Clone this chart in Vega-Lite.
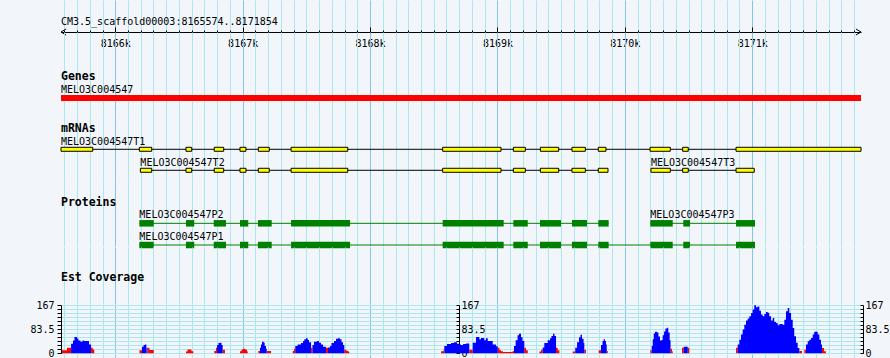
{
  "$schema": "https://vega.github.io/schema/vega-lite/v6.json",
  "background": "#F2F5FA",
  "padding": {"left": 29, "top": 0, "right": 0, "bottom": 0},
  "spacing": 0,
  "bounds": "flush",
  "config": {
    "view": {"stroke": null},
    "axis": {"labelFont": "DejaVu Sans Mono", "labelFontSize": 10, "labelColor": "#000000", "tickColor": "#000000", "domainColor": "#000000", "labelOverlap": false, "labelFlush": false, "domainWidth": 1, "tickWidth": 1},
    "text": {"font": "DejaVu Sans Mono", "fontSize": 10}
  },
  "datasets": {
    "region": [{"seq": "CM3.5_scaffold00003", "start": 8165574, "end": 8171854, "label": "CM3.5_scaffold00003:8165574..8171854"}],
    "genes": [{"name": "MELO3C004547", "lane": "1", "start": 8165574, "end": 8171854}],
    "transcripts": [
      {"track": "mRNAs", "name": "MELO3C004547T1", "lane": "1", "start": 8165574, "end": 8171854},
      {"track": "mRNAs", "name": "MELO3C004547T2", "lane": "2", "start": 8166197, "end": 8169868},
      {"track": "mRNAs", "name": "MELO3C004547T3", "lane": "2", "start": 8170205, "end": 8171016},
      {"track": "Proteins", "name": "MELO3C004547P2", "lane": "1", "start": 8166189, "end": 8169873},
      {"track": "Proteins", "name": "MELO3C004547P3", "lane": "1", "start": 8170200, "end": 8171022},
      {"track": "Proteins", "name": "MELO3C004547P1", "lane": "2", "start": 8166189, "end": 8171022}
    ],
    "parts": [
      {"track": "mRNAs", "name": "T1", "lane": "1", "start": 8165574, "end": 8165823},
      {"track": "mRNAs", "name": "T1", "lane": "1", "start": 8166189, "end": 8166286},
      {"track": "mRNAs", "name": "T1", "lane": "1", "start": 8166555, "end": 8166600},
      {"track": "mRNAs", "name": "T1", "lane": "1", "start": 8166777, "end": 8166851},
      {"track": "mRNAs", "name": "T1", "lane": "1", "start": 8166979, "end": 8167026},
      {"track": "mRNAs", "name": "T1", "lane": "1", "start": 8167123, "end": 8167209},
      {"track": "mRNAs", "name": "T1", "lane": "1", "start": 8167380, "end": 8167825},
      {"track": "mRNAs", "name": "T1", "lane": "1", "start": 8168570, "end": 8169028},
      {"track": "mRNAs", "name": "T1", "lane": "1", "start": 8169125, "end": 8169219},
      {"track": "mRNAs", "name": "T1", "lane": "1", "start": 8169337, "end": 8169481},
      {"track": "mRNAs", "name": "T1", "lane": "1", "start": 8169585, "end": 8169690},
      {"track": "mRNAs", "name": "T1", "lane": "1", "start": 8169792, "end": 8169852},
      {"track": "mRNAs", "name": "T1", "lane": "1", "start": 8170198, "end": 8170357},
      {"track": "mRNAs", "name": "T1", "lane": "1", "start": 8170454, "end": 8170498},
      {"track": "mRNAs", "name": "T1", "lane": "1", "start": 8170873, "end": 8171854},
      {"track": "mRNAs", "name": "T2", "lane": "2", "start": 8166197, "end": 8166286},
      {"track": "mRNAs", "name": "T2", "lane": "2", "start": 8166555, "end": 8166600},
      {"track": "mRNAs", "name": "T2", "lane": "2", "start": 8166777, "end": 8166851},
      {"track": "mRNAs", "name": "T2", "lane": "2", "start": 8166979, "end": 8167026},
      {"track": "mRNAs", "name": "T2", "lane": "2", "start": 8167123, "end": 8167209},
      {"track": "mRNAs", "name": "T2", "lane": "2", "start": 8167380, "end": 8167825},
      {"track": "mRNAs", "name": "T2", "lane": "2", "start": 8168570, "end": 8169028},
      {"track": "mRNAs", "name": "T2", "lane": "2", "start": 8169125, "end": 8169219},
      {"track": "mRNAs", "name": "T2", "lane": "2", "start": 8169337, "end": 8169481},
      {"track": "mRNAs", "name": "T2", "lane": "2", "start": 8169585, "end": 8169690},
      {"track": "mRNAs", "name": "T2", "lane": "2", "start": 8169792, "end": 8169868},
      {"track": "mRNAs", "name": "T3", "lane": "2", "start": 8170205, "end": 8170357},
      {"track": "mRNAs", "name": "T3", "lane": "2", "start": 8170454, "end": 8170498},
      {"track": "mRNAs", "name": "T3", "lane": "2", "start": 8170873, "end": 8171016},
      {"track": "Proteins", "name": "P2", "lane": "1", "start": 8166189, "end": 8166302},
      {"track": "Proteins", "name": "P2", "lane": "1", "start": 8166555, "end": 8166620},
      {"track": "Proteins", "name": "P2", "lane": "1", "start": 8166773, "end": 8166869},
      {"track": "Proteins", "name": "P2", "lane": "1", "start": 8166979, "end": 8167044},
      {"track": "Proteins", "name": "P2", "lane": "1", "start": 8167120, "end": 8167228},
      {"track": "Proteins", "name": "P2", "lane": "1", "start": 8167380, "end": 8167843},
      {"track": "Proteins", "name": "P2", "lane": "1", "start": 8168570, "end": 8169049},
      {"track": "Proteins", "name": "P2", "lane": "1", "start": 8169125, "end": 8169238},
      {"track": "Proteins", "name": "P2", "lane": "1", "start": 8169334, "end": 8169499},
      {"track": "Proteins", "name": "P2", "lane": "1", "start": 8169585, "end": 8169703},
      {"track": "Proteins", "name": "P2", "lane": "1", "start": 8169792, "end": 8169873},
      {"track": "Proteins", "name": "P3", "lane": "1", "start": 8170200, "end": 8170376},
      {"track": "Proteins", "name": "P3", "lane": "1", "start": 8170459, "end": 8170512},
      {"track": "Proteins", "name": "P3", "lane": "1", "start": 8170873, "end": 8171022},
      {"track": "Proteins", "name": "P1", "lane": "2", "start": 8166189, "end": 8166302},
      {"track": "Proteins", "name": "P1", "lane": "2", "start": 8166555, "end": 8166620},
      {"track": "Proteins", "name": "P1", "lane": "2", "start": 8166773, "end": 8166869},
      {"track": "Proteins", "name": "P1", "lane": "2", "start": 8166979, "end": 8167044},
      {"track": "Proteins", "name": "P1", "lane": "2", "start": 8167120, "end": 8167228},
      {"track": "Proteins", "name": "P1", "lane": "2", "start": 8167380, "end": 8167843},
      {"track": "Proteins", "name": "P1", "lane": "2", "start": 8168570, "end": 8169049},
      {"track": "Proteins", "name": "P1", "lane": "2", "start": 8169125, "end": 8169238},
      {"track": "Proteins", "name": "P1", "lane": "2", "start": 8169334, "end": 8169499},
      {"track": "Proteins", "name": "P1", "lane": "2", "start": 8169585, "end": 8169703},
      {"track": "Proteins", "name": "P1", "lane": "2", "start": 8169792, "end": 8169873},
      {"track": "Proteins", "name": "P1", "lane": "2", "start": 8170200, "end": 8170376},
      {"track": "Proteins", "name": "P1", "lane": "2", "start": 8170459, "end": 8170512},
      {"track": "Proteins", "name": "P1", "lane": "2", "start": 8170873, "end": 8171022}
    ],
    "coverage": [
      {"pos": 8165582, "cov": 0, "low": 10}, {"pos": 8165621, "cov": 0, "low": 19}, {"pos": 8165653, "cov": 33, "low": 0}, {"pos": 8165668, "cov": 44, "low": 0}, {"pos": 8165680, "cov": 56, "low": 0}, {"pos": 8165700, "cov": 51, "low": 0}, {"pos": 8165711, "cov": 44, "low": 0}, {"pos": 8165727, "cov": 40, "low": 0}, {"pos": 8165743, "cov": 44, "low": 0}, {"pos": 8165755, "cov": 42, "low": 0}, {"pos": 8165794, "cov": 30, "low": 0}, {"pos": 8165810, "cov": 0, "low": 19}, {"pos": 8165823, "cov": 0, "low": 13}, {"pos": 8165835, "cov": 0, "low": 0},
      {"pos": 8166190, "cov": 0, "low": 10}, {"pos": 8166210, "cov": 22, "low": 0}, {"pos": 8166222, "cov": 28, "low": 0}, {"pos": 8166233, "cov": 30, "low": 0}, {"pos": 8166244, "cov": 0, "low": 19}, {"pos": 8166253, "cov": 19, "low": 0}, {"pos": 8166259, "cov": 0, "low": 19}, {"pos": 8166269, "cov": 0, "low": 11}, {"pos": 8166302, "cov": 0, "low": 0},
      {"pos": 8166555, "cov": 0, "low": 6}, {"pos": 8166567, "cov": 0, "low": 13}, {"pos": 8166598, "cov": 0, "low": 7}, {"pos": 8166613, "cov": 0, "low": 0},
      {"pos": 8166777, "cov": 0, "low": 8}, {"pos": 8166791, "cov": 0, "low": 19}, {"pos": 8166799, "cov": 28, "low": 0}, {"pos": 8166810, "cov": 35, "low": 0}, {"pos": 8166822, "cov": 36, "low": 0}, {"pos": 8166834, "cov": 28, "low": 0}, {"pos": 8166843, "cov": 0, "low": 12}, {"pos": 8166861, "cov": 0, "low": 0},
      {"pos": 8166979, "cov": 0, "low": 7}, {"pos": 8166991, "cov": 0, "low": 13}, {"pos": 8167003, "cov": 0, "low": 15}, {"pos": 8167022, "cov": 0, "low": 12}, {"pos": 8167034, "cov": 0, "low": 6}, {"pos": 8167040, "cov": 0, "low": 0},
      {"pos": 8167123, "cov": 0, "low": 8}, {"pos": 8167136, "cov": 19, "low": 0}, {"pos": 8167144, "cov": 30, "low": 0}, {"pos": 8167152, "cov": 40, "low": 0}, {"pos": 8167165, "cov": 36, "low": 0}, {"pos": 8167173, "cov": 25, "low": 0}, {"pos": 8167183, "cov": 15, "low": 0}, {"pos": 8167189, "cov": 0, "low": 8}, {"pos": 8167223, "cov": 0, "low": 0},
      {"pos": 8167393, "cov": 0, "low": 8}, {"pos": 8167403, "cov": 0, "low": 15}, {"pos": 8167413, "cov": 25, "low": 0}, {"pos": 8167432, "cov": 30, "low": 0}, {"pos": 8167458, "cov": 35, "low": 0}, {"pos": 8167474, "cov": 42, "low": 0}, {"pos": 8167484, "cov": 48, "low": 0}, {"pos": 8167497, "cov": 52, "low": 0}, {"pos": 8167511, "cov": 46, "low": 0}, {"pos": 8167521, "cov": 38, "low": 0}, {"pos": 8167537, "cov": 0, "low": 19}, {"pos": 8167548, "cov": 28, "low": 0}, {"pos": 8167560, "cov": 40, "low": 0}, {"pos": 8167584, "cov": 42, "low": 0}, {"pos": 8167599, "cov": 36, "low": 0}, {"pos": 8167615, "cov": 30, "low": 0}, {"pos": 8167631, "cov": 22, "low": 0}, {"pos": 8167654, "cov": 0, "low": 19}, {"pos": 8167670, "cov": 20, "low": 0}, {"pos": 8167686, "cov": 25, "low": 0}, {"pos": 8167697, "cov": 35, "low": 0}, {"pos": 8167717, "cov": 42, "low": 0}, {"pos": 8167733, "cov": 50, "low": 0}, {"pos": 8167748, "cov": 52, "low": 0}, {"pos": 8167764, "cov": 48, "low": 0}, {"pos": 8167776, "cov": 38, "low": 0}, {"pos": 8167788, "cov": 28, "low": 0}, {"pos": 8167798, "cov": 0, "low": 12}, {"pos": 8167815, "cov": 0, "low": 8}, {"pos": 8167832, "cov": 0, "low": 4}, {"pos": 8167837, "cov": 0, "low": 0},
      {"pos": 8168557, "cov": 0, "low": 7}, {"pos": 8168578, "cov": 0, "low": 14}, {"pos": 8168583, "cov": 25, "low": 0}, {"pos": 8168604, "cov": 32, "low": 0}, {"pos": 8168636, "cov": 35, "low": 0}, {"pos": 8168659, "cov": 38, "low": 0}, {"pos": 8168683, "cov": 33, "low": 0}, {"pos": 8168698, "cov": 30, "low": 0}, {"pos": 8168714, "cov": 28, "low": 0}, {"pos": 8168730, "cov": 32, "low": 0}, {"pos": 8168753, "cov": 34, "low": 0}, {"pos": 8168779, "cov": 0, "low": 12}, {"pos": 8168806, "cov": 36, "low": 0}, {"pos": 8168832, "cov": 56, "low": 0}, {"pos": 8168858, "cov": 48, "low": 0}, {"pos": 8168871, "cov": 53, "low": 0}, {"pos": 8168897, "cov": 45, "low": 0}, {"pos": 8168910, "cov": 52, "low": 0}, {"pos": 8168924, "cov": 42, "low": 0}, {"pos": 8168963, "cov": 30, "low": 0}, {"pos": 8168989, "cov": 24, "low": 0}, {"pos": 8169002, "cov": 0, "low": 19}, {"pos": 8169016, "cov": 0, "low": 10}, {"pos": 8169028, "cov": 0, "low": 7}, {"pos": 8169044, "cov": 0, "low": 4}, {"pos": 8169120, "cov": 0, "low": 8},
      {"pos": 8169130, "cov": 25, "low": 0}, {"pos": 8169143, "cov": 45, "low": 0}, {"pos": 8169158, "cov": 62, "low": 0}, {"pos": 8169169, "cov": 67, "low": 0}, {"pos": 8169185, "cov": 55, "low": 0}, {"pos": 8169197, "cov": 42, "low": 0}, {"pos": 8169211, "cov": 0, "low": 19}, {"pos": 8169224, "cov": 0, "low": 10}, {"pos": 8169238, "cov": 0, "low": 0},
      {"pos": 8169329, "cov": 0, "low": 6}, {"pos": 8169342, "cov": 0, "low": 12}, {"pos": 8169355, "cov": 20, "low": 0}, {"pos": 8169368, "cov": 35, "low": 0}, {"pos": 8169395, "cov": 45, "low": 0}, {"pos": 8169413, "cov": 52, "low": 0}, {"pos": 8169424, "cov": 60, "low": 0}, {"pos": 8169436, "cov": 67, "low": 0}, {"pos": 8169448, "cov": 60, "low": 0}, {"pos": 8169460, "cov": 0, "low": 19}, {"pos": 8169473, "cov": 0, "low": 10}, {"pos": 8169486, "cov": 0, "low": 0},
      {"pos": 8169591, "cov": 0, "low": 6}, {"pos": 8169611, "cov": 19, "low": 0}, {"pos": 8169625, "cov": 38, "low": 0}, {"pos": 8169640, "cov": 55, "low": 0}, {"pos": 8169652, "cov": 64, "low": 0}, {"pos": 8169664, "cov": 50, "low": 0}, {"pos": 8169676, "cov": 35, "low": 0}, {"pos": 8169682, "cov": 0, "low": 12}, {"pos": 8169695, "cov": 0, "low": 0},
      {"pos": 8169795, "cov": 0, "low": 10}, {"pos": 8169813, "cov": 28, "low": 0}, {"pos": 8169825, "cov": 42, "low": 0}, {"pos": 8169834, "cov": 48, "low": 0}, {"pos": 8169844, "cov": 42, "low": 0}, {"pos": 8169852, "cov": 30, "low": 0}, {"pos": 8169858, "cov": 0, "low": 8}, {"pos": 8169866, "cov": 0, "low": 0},
      {"pos": 8170200, "cov": 0, "low": 10}, {"pos": 8170211, "cov": 25, "low": 0}, {"pos": 8170219, "cov": 48, "low": 0}, {"pos": 8170227, "cov": 68, "low": 0}, {"pos": 8170237, "cov": 74, "low": 0}, {"pos": 8170253, "cov": 72, "low": 0}, {"pos": 8170264, "cov": 58, "low": 0}, {"pos": 8170276, "cov": 44, "low": 0}, {"pos": 8170288, "cov": 46, "low": 0}, {"pos": 8170297, "cov": 62, "low": 0}, {"pos": 8170308, "cov": 75, "low": 0}, {"pos": 8170319, "cov": 86, "low": 0}, {"pos": 8170331, "cov": 88, "low": 0}, {"pos": 8170341, "cov": 72, "low": 0}, {"pos": 8170352, "cov": 45, "low": 0}, {"pos": 8170359, "cov": 0, "low": 15}, {"pos": 8170370, "cov": 0, "low": 7}, {"pos": 8170376, "cov": 0, "low": 0},
      {"pos": 8170449, "cov": 0, "low": 19}, {"pos": 8170462, "cov": 22, "low": 0}, {"pos": 8170494, "cov": 0, "low": 19}, {"pos": 8170506, "cov": 0, "low": 0},
      {"pos": 8170873, "cov": 0, "low": 19}, {"pos": 8170886, "cov": 30, "low": 0}, {"pos": 8170899, "cov": 47, "low": 0}, {"pos": 8170912, "cov": 65, "low": 0}, {"pos": 8170925, "cov": 82, "low": 0}, {"pos": 8170938, "cov": 99, "low": 0}, {"pos": 8170951, "cov": 113, "low": 0}, {"pos": 8170965, "cov": 120, "low": 0}, {"pos": 8170977, "cov": 128, "low": 0}, {"pos": 8170991, "cov": 139, "low": 0}, {"pos": 8171004, "cov": 151, "low": 0}, {"pos": 8171016, "cov": 166, "low": 0}, {"pos": 8171030, "cov": 159, "low": 0}, {"pos": 8171043, "cov": 162, "low": 0}, {"pos": 8171056, "cov": 147, "low": 0}, {"pos": 8171069, "cov": 134, "low": 0}, {"pos": 8171082, "cov": 128, "low": 0}, {"pos": 8171095, "cov": 136, "low": 0}, {"pos": 8171108, "cov": 143, "low": 0}, {"pos": 8171122, "cov": 140, "low": 0}, {"pos": 8171134, "cov": 128, "low": 0}, {"pos": 8171148, "cov": 113, "low": 0}, {"pos": 8171161, "cov": 122, "low": 0}, {"pos": 8171173, "cov": 108, "low": 0}, {"pos": 8171187, "cov": 105, "low": 0}, {"pos": 8171200, "cov": 97, "low": 0}, {"pos": 8171213, "cov": 101, "low": 0}, {"pos": 8171226, "cov": 101, "low": 0}, {"pos": 8171239, "cov": 99, "low": 0}, {"pos": 8171252, "cov": 116, "low": 0}, {"pos": 8171265, "cov": 145, "low": 0}, {"pos": 8171279, "cov": 157, "low": 0}, {"pos": 8171291, "cov": 139, "low": 0}, {"pos": 8171305, "cov": 116, "low": 0}, {"pos": 8171318, "cov": 87, "low": 0}, {"pos": 8171330, "cov": 59, "low": 0}, {"pos": 8171344, "cov": 36, "low": 0}, {"pos": 8171357, "cov": 18, "low": 0}, {"pos": 8171370, "cov": 0, "low": 8}, {"pos": 8171391, "cov": 0, "low": 0},
      {"pos": 8171409, "cov": 0, "low": 12}, {"pos": 8171422, "cov": 30, "low": 0}, {"pos": 8171436, "cov": 41, "low": 0}, {"pos": 8171448, "cov": 47, "low": 0}, {"pos": 8171462, "cov": 53, "low": 0}, {"pos": 8171475, "cov": 65, "low": 0}, {"pos": 8171487, "cov": 74, "low": 0}, {"pos": 8171501, "cov": 74, "low": 0}, {"pos": 8171514, "cov": 65, "low": 0}, {"pos": 8171527, "cov": 47, "low": 0}, {"pos": 8171540, "cov": 30, "low": 0}, {"pos": 8171548, "cov": 0, "low": 18}, {"pos": 8171564, "cov": 0, "low": 7}, {"pos": 8171579, "cov": 0, "low": 0}
    ]
  },
  "vconcat": [
    {
      "width": 800, "height": 32,
      "resolve": {"axis": {"x": "independent"}},
      "layer": [
        {
          "data": {"name": "region"},
          "mark": {"type": "text", "align": "left", "baseline": "alphabetic", "dy": -7.5},
          "encoding": {
            "x": {"field": "start", "type": "quantitative", "scale": {"domain": [8165574, 8171854], "nice": false, "zero": false},
                  "axis": {"orient": "bottom", "grid": true, "gridColor": {"condition": {"test": "datum.value % 1000 === 0", "value": "#86C3E6"}, "value": "#ACE6EE"}, "gridOpacity": 1, "tickCount": 63, "labels": false, "ticks": false, "domain": true, "title": null}},
            "y": {"datum": "ruler", "type": "nominal", "scale": {"type": "point", "domain": ["ruler"], "align": 1, "padding": 0.5}, "axis": null},
            "text": {"field": "label"}
          }
        },
        {
          "data": {"name": "region"},
          "mark": {"type": "point", "shape": "M 1.7 -1 L 0 0 L 1.7 1", "filled": false, "stroke": "#000000", "strokeWidth": 1, "size": 36, "opacity": 1},
          "encoding": {
            "x": {"field": "start", "type": "quantitative", "scale": {"domain": [8165574, 8171854], "nice": false, "zero": false},
                  "axis": {"orient": "bottom", "offset": -2, "tickCount": 63, "tickSize": 4, "labels": false, "domain": false, "grid": false, "title": null}},
            "y": {"datum": "ruler", "type": "nominal"}
          }
        },
        {
          "data": {"name": "region"},
          "mark": {"type": "point", "shape": "M -1.7 -1 L 0 0 L -1.7 1", "filled": false, "stroke": "#000000", "strokeWidth": 1, "size": 36, "opacity": 1},
          "encoding": {
            "x": {"field": "end", "type": "quantitative", "scale": {"domain": [8165574, 8171854], "nice": false, "zero": false},
                  "axis": {"orient": "bottom", "offset": -5, "values": [8166000, 8167000, 8168000, 8169000, 8170000, 8171000], "tickSize": 10.6, "labels": true, "labelExpr": "format(datum.value / 1000, 'd') + 'k'", "labelPadding": 1, "domain": false, "grid": false, "title": null}},
            "y": {"datum": "ruler", "type": "nominal"}
          }
        }
      ]
    },
    {
      "width": 800, "height": 86,
      "layer": [
        {
          "data": {"name": "genes"},
          "mark": {"type": "bar", "color": "#FF0000", "size": 6},
          "encoding": {
            "x": {"field": "start", "type": "quantitative", "scale": {"domain": [8165574, 8171854], "nice": false, "zero": false},
                  "axis": {"grid": true, "gridColor": {"condition": {"test": "datum.value % 1000 === 0", "value": "#86C3E6"}, "value": "#ACE6EE"}, "gridOpacity": 1, "tickCount": 63, "labels": false, "ticks": false, "domain": false, "title": null}},
            "x2": {"field": "end"},
            "y": {"field": "lane", "type": "nominal", "scale": {"type": "point", "domain": ["1"], "align": 0.7674, "padding": 1}, "axis": null}
          }
        },
        {
          "data": {"name": "genes"},
          "mark": {"type": "text", "align": "left", "baseline": "alphabetic", "dy": -5.3},
          "encoding": {
            "x": {"field": "start", "type": "quantitative"},
            "y": {"field": "lane", "type": "nominal"},
            "text": {"field": "name"}
          }
        },
        {
          "data": {"name": "region"},
          "mark": {"type": "text", "align": "left", "baseline": "alphabetic", "dy": -18, "font": "DejaVu Sans Mono", "fontWeight": "bold", "fontSize": 11.5, "text": "Genes"},
          "encoding": {
            "x": {"field": "start", "type": "quantitative"},
            "y": {"datum": "1", "type": "nominal"}
          }
        }
      ]
    },
    {
      "width": 800, "height": 63,
      "layer": [
        {
          "data": {"name": "transcripts"},
          "transform": [{"filter": "datum.track === 'mRNAs'"}],
          "mark": {"type": "rule", "color": "#000000", "strokeWidth": 1},
          "encoding": {
            "x": {"field": "start", "type": "quantitative", "scale": {"domain": [8165574, 8171854], "nice": false, "zero": false},
                  "axis": {"grid": true, "gridColor": {"condition": {"test": "datum.value % 1000 === 0", "value": "#86C3E6"}, "value": "#ACE6EE"}, "gridOpacity": 1, "tickCount": 63, "labels": false, "ticks": false, "domain": false, "title": null}},
            "x2": {"field": "end"},
            "y": {"field": "lane", "type": "nominal", "scale": {"type": "point", "domain": ["1", "2"], "align": 0.745, "padding": 1}, "axis": null}
          }
        },
        {
          "data": {"name": "parts"},
          "transform": [{"filter": "datum.track === 'mRNAs'"}],
          "mark": {"type": "bar", "fill": "#FFFF00", "stroke": "#000000", "strokeWidth": 1, "size": 4},
          "encoding": {
            "x": {"field": "start", "type": "quantitative"},
            "x2": {"field": "end"},
            "y": {"field": "lane", "type": "nominal"}
          }
        },
        {
          "data": {"name": "transcripts"},
          "transform": [{"filter": "datum.track === 'mRNAs'"}],
          "mark": {"type": "text", "align": "left", "baseline": "alphabetic", "dy": -4.5},
          "encoding": {
            "x": {"field": "start", "type": "quantitative"},
            "y": {"field": "lane", "type": "nominal"},
            "text": {"field": "name"}
          }
        },
        {
          "data": {"name": "region"},
          "mark": {"type": "text", "align": "left", "baseline": "alphabetic", "dy": -17, "font": "DejaVu Sans Mono", "fontWeight": "bold", "fontSize": 11.5, "text": "mRNAs"},
          "encoding": {
            "x": {"field": "start", "type": "quantitative"},
            "y": {"datum": "1", "type": "nominal"}
          }
        }
      ]
    },
    {
      "width": 800, "height": 65.1,
      "layer": [
        {
          "data": {"name": "transcripts"},
          "transform": [{"filter": "datum.track === 'Proteins'"}],
          "mark": {"type": "rule", "color": "#008000", "strokeWidth": 1},
          "encoding": {
            "x": {"field": "start", "type": "quantitative", "scale": {"domain": [8165574, 8171854], "nice": false, "zero": false},
                  "axis": {"grid": true, "gridColor": {"condition": {"test": "datum.value % 1000 === 0", "value": "#86C3E6"}, "value": "#ACE6EE"}, "gridOpacity": 1, "tickCount": 63, "labels": false, "ticks": false, "domain": false, "title": null}},
            "x2": {"field": "end"},
            "y": {"field": "lane", "type": "nominal", "scale": {"type": "point", "domain": ["1", "2"], "align": 0.975, "padding": 1}, "axis": null}
          }
        },
        {
          "data": {"name": "parts"},
          "transform": [{"filter": "datum.track === 'Proteins'"}],
          "mark": {"type": "bar", "color": "#008000", "size": 6.5},
          "encoding": {
            "x": {"field": "start", "type": "quantitative"},
            "x2": {"field": "end"},
            "y": {"field": "lane", "type": "nominal"}
          }
        },
        {
          "data": {"name": "transcripts"},
          "transform": [{"filter": "datum.track === 'Proteins'"}],
          "mark": {"type": "text", "align": "left", "baseline": "alphabetic", "dy": -5},
          "encoding": {
            "x": {"field": "start", "type": "quantitative"},
            "y": {"field": "lane", "type": "nominal"},
            "text": {"field": "name"}
          }
        },
        {
          "data": {"name": "region"},
          "mark": {"type": "text", "align": "left", "baseline": "alphabetic", "dy": -17.3, "font": "DejaVu Sans Mono", "fontWeight": "bold", "fontSize": 11.5, "text": "Proteins"},
          "encoding": {
            "x": {"field": "start", "type": "quantitative"},
            "y": {"datum": "1", "type": "nominal"}
          }
        }
      ]
    },
    {
      "width": 800, "height": 57.2,
      "data": {"name": "region"},
      "mark": {"type": "text", "align": "left", "baseline": "alphabetic", "dy": 5.3, "font": "DejaVu Sans Mono", "fontWeight": "bold", "fontSize": 11.5, "text": "Est Coverage"},
      "encoding": {
        "x": {"field": "start", "type": "quantitative", "scale": {"domain": [8165574, 8171854], "nice": false, "zero": false},
              "axis": {"grid": true, "gridColor": {"condition": {"test": "datum.value % 1000 === 0", "value": "#86C3E6"}, "value": "#ACE6EE"}, "gridOpacity": 1, "tickCount": 63, "labels": false, "ticks": false, "domain": false, "title": null}}
      }
    },
    {
      "width": 800, "height": 48.2,
      "data": {"name": "coverage"},
      "encoding": {
        "x": {"field": "pos", "type": "quantitative", "scale": {"domain": [8165574, 8171854], "nice": false, "zero": false},
              "axis": {"grid": true, "gridColor": {"condition": {"test": "datum.value % 1000 === 0", "value": "#86C3E6"}, "value": "#ACE6EE"}, "gridOpacity": 1, "tickCount": 63, "labels": false, "ticks": false, "domain": false, "title": null}}
      },
      "resolve": {"axis": {"y": "independent"}},
      "layer": [
        {
          "mark": {"type": "area", "interpolate": "step-after", "color": "#FF0000"},
          "encoding": {
            "y": {"field": "low", "type": "quantitative", "scale": {"domain": [0, 167], "nice": false, "zero": true},
                  "axis": {"orient": "left", "values": [0, 13.9167, 27.8333, 41.75, 55.6667, 69.5833, 83.5, 97.4167, 111.3333, 125.25, 139.1667, 153.0833, 167],
                           "labelExpr": "datum.value == 0 ? '0' : datum.value == 83.5 ? '83.5' : datum.value == 167 ? '167' : ''",
                           "grid": true, "gridColor": "#ACE6EE", "gridOpacity": 1, "tickSize": 4, "labelPadding": 3, "domain": true, "title": null}}
          }
        },
        {
          "mark": {"type": "area", "interpolate": "step-after", "color": "#0000FF"},
          "encoding": {
            "y": {"field": "cov", "type": "quantitative",
                  "axis": {"orient": "right", "offset": -402, "values": [0, 13.9167, 27.8333, 41.75, 55.6667, 69.5833, 83.5, 97.4167, 111.3333, 125.25, 139.1667, 153.0833, 167],
                           "labelExpr": "datum.value == 0 ? '0' : datum.value == 83.5 ? '83.5' : datum.value == 167 ? '167' : ''",
                           "grid": false, "tickSize": -3, "labelPadding": 5, "domain": true, "title": null}}
          }
        },
        {
          "mark": {"type": "area", "interpolate": "step-after", "color": "#0000FF", "opacity": 0},
          "encoding": {
            "y": {"field": "cov", "type": "quantitative",
                  "axis": {"orient": "right", "offset": 2, "values": [0, 13.9167, 27.8333, 41.75, 55.6667, 69.5833, 83.5, 97.4167, 111.3333, 125.25, 139.1667, 153.0833, 167],
                           "labelExpr": "datum.value == 0 ? '0' : datum.value == 83.5 ? '83.5' : datum.value == 167 ? '167' : ''",
                           "grid": false, "tickSize": -3, "labelPadding": 5, "domain": true, "title": null}}
          }
        }
      ]
    },
    {
      "width": 800, "height": 6.5,
      "data": {"name": "region"},
      "mark": {"type": "rule", "opacity": 0},
      "encoding": {
        "x": {"field": "start", "type": "quantitative", "scale": {"domain": [8165574, 8171854], "nice": false, "zero": false},
              "axis": {"grid": true, "gridColor": {"condition": {"test": "datum.value % 1000 === 0", "value": "#86C3E6"}, "value": "#ACE6EE"}, "gridOpacity": 1, "tickCount": 63, "labels": false, "ticks": false, "domain": false, "title": null}}
      }
    }
  ]
}
